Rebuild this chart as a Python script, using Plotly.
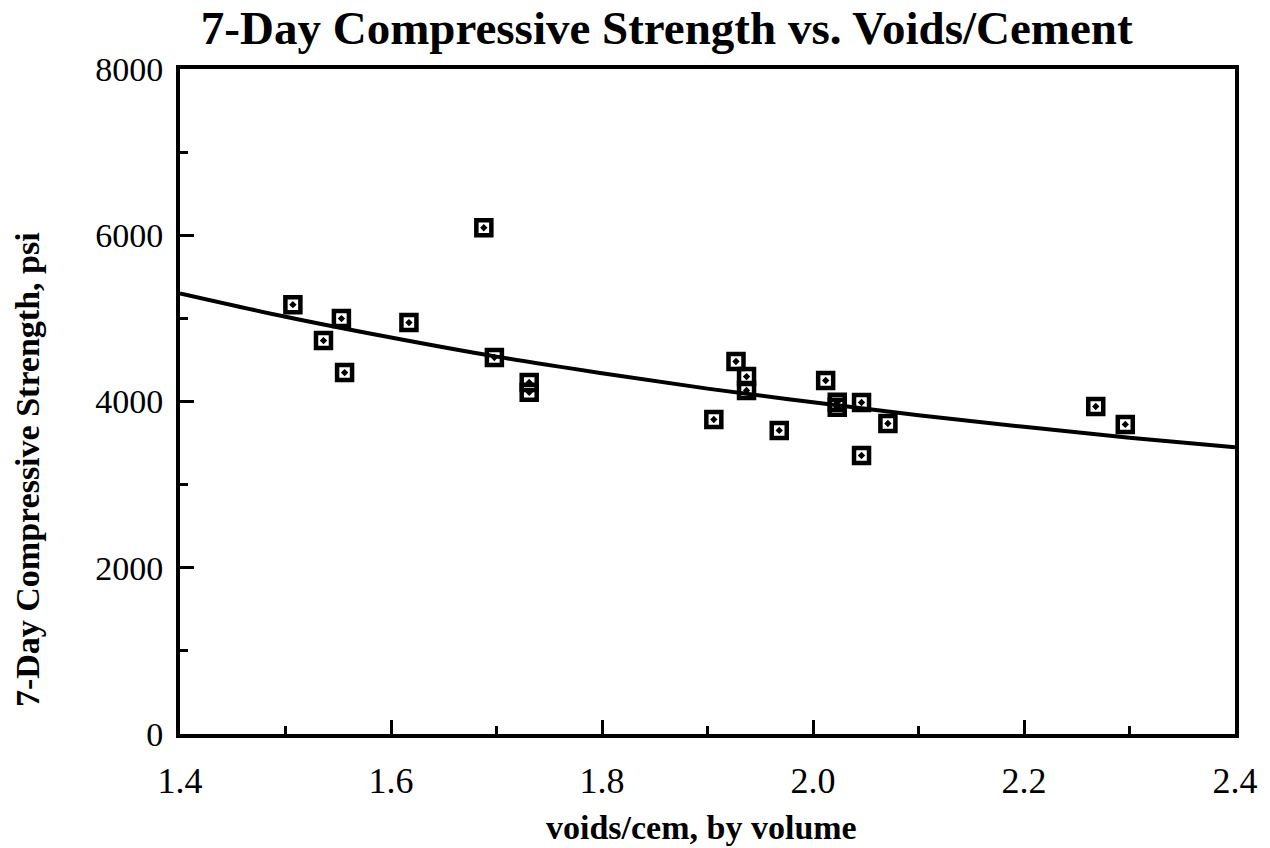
import plotly.graph_objects as go

# Mix results: voids/cement ratio vs 7-day compressive strength (psi)
voids_cem = [1.507, 1.536, 1.553, 1.556, 1.617, 1.688, 1.698, 1.731, 1.731,
             1.906, 1.927, 1.937, 1.937, 1.968, 2.012, 2.023, 2.023, 2.046,
             2.046, 2.071, 2.268, 2.296]
strength_psi = [5165, 4733, 4997, 4348, 4949, 6090, 4529, 4230, 4110,
                3784, 4481, 4300, 4132, 3652, 4252, 3990, 3930, 3988,
                3351, 3736, 3940, 3724]

# Fitted trend curve, sampled along the x range
fit_x = [1.4, 1.5, 1.6, 1.7, 1.8, 1.9, 2.0, 2.1, 2.2, 2.3, 2.4]
fit_y = [5300, 5020, 4770, 4540, 4340, 4155, 3990, 3835, 3695, 3565, 3450]

x_ticks = [1.4, 1.6, 1.8, 2.0, 2.2, 2.4]
x_tick_text = ["1.4", "1.6", "1.8", "2.0", "2.2", "2.4"]
y_ticks = [0, 2000, 4000, 6000, 8000]
y_tick_text = ["0", "2000", "4000", "6000", "8000"]

SERIF = "Liberation Serif, Times New Roman, serif"

fig = go.Figure()
fig.add_trace(go.Scatter(
    x=fit_x, y=fit_y, mode="lines",
    line=dict(color="black", width=4, shape="spline"),
    showlegend=False, hoverinfo="skip",
))
fig.add_trace(go.Scatter(
    x=voids_cem, y=strength_psi, mode="markers",
    marker=dict(symbol="square-open-dot", size=15, color="black",
                line=dict(color="black", width=4.5)),
    showlegend=False,
))

axis_common = dict(
    showline=True, linecolor="black", linewidth=4, mirror=True,
    ticks="inside", tickcolor="black", tickwidth=2.5, ticklen=14,
    showgrid=False, zeroline=False,
)

fig.update_layout(
    width=1270, height=848,
    margin=dict(l=180, r=33, t=69, b=114),
    paper_bgcolor="white", plot_bgcolor="white",
    title=dict(
        text="<b>7-Day Compressive Strength vs. Voids/Cement</b>",
        font=dict(family=SERIF, size=47, color="black"),
        xref="container", x=0.525, xanchor="center",
        yref="container", y=0.967, yanchor="middle",
    ),
    xaxis=dict(
        range=[1.4, 2.4], tickvals=x_ticks, ticktext=x_tick_text,
        minor=dict(ticks="inside", ticklen=8, tickwidth=2.5,
                   tickcolor="black", dtick=0.1, tick0=1.4),
        ticklabelstandoff=12,
        tickfont=dict(family=SERIF, size=36, color="black"),
        **axis_common,
    ),
    yaxis=dict(
        range=[0, 8000], tickvals=y_ticks, ticktext=y_tick_text,
        minor=dict(ticks="inside", ticklen=8, tickwidth=2.5,
                   tickcolor="black", dtick=1000, tick0=0),
        ticklabelstandoff=6,
        tickfont=dict(family=SERIF, size=34, color="black"),
        **axis_common,
    ),
    annotations=[
        dict(text="<b>voids/cem, by volume</b>", showarrow=False,
             xref="paper", yref="paper", x=0.494, y=-0.141,
             xanchor="center", yanchor="middle",
             font=dict(family=SERIF, size=34, color="black")),
        dict(text="<b>7-Day Compressive Strength, psi</b>", showarrow=False,
             textangle=-90,
             xref="paper", yref="paper", x=-0.144, y=0.397,
             xanchor="center", yanchor="middle",
             font=dict(family=SERIF, size=34, color="black")),
    ],
)

fig.write_html("out.html")
